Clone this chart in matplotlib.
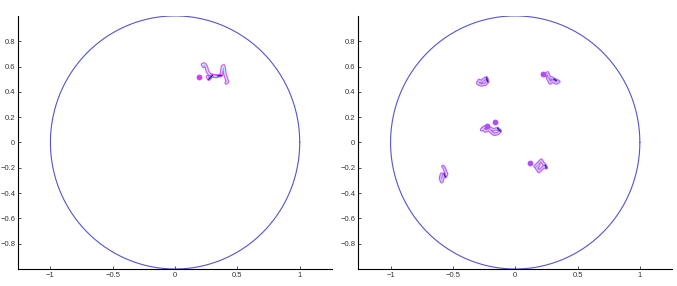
import numpy as np
import matplotlib
matplotlib.use("Agg")
import matplotlib.pyplot as plt

plt.rcParams['font.family'] = ['Liberation Sans', 'DejaVu Sans']

# unit circle boundary
theta = np.linspace(0, 2 * np.pi, 400)

# left panel: one cluster of trajectories
left_paths = [
    ([0.23, 0.22, 0.235, 0.25, 0.26, 0.28, 0.31, 0.34, 0.37, 0.375, 0.38, 0.39, 0.395, 0.40, 0.41, 0.42, 0.41],
     [0.60, 0.615, 0.62, 0.60, 0.56, 0.535, 0.525, 0.525, 0.53, 0.56, 0.60, 0.605, 0.58, 0.54, 0.51, 0.48, 0.47]),
    ([0.26, 0.27, 0.30, 0.33], [0.52, 0.50, 0.53, 0.52]),
]
left_dots_x = [0.19]
left_dots_y = [0.515]

# right panel: five clusters
right_paths = [
    ([-0.30, -0.29, -0.27, -0.25, -0.23, -0.22, -0.24, -0.27, -0.29, -0.30],
     [0.47, 0.49, 0.48, 0.50, 0.51, 0.48, 0.46, 0.455, 0.46, 0.47]),
    ([0.22, 0.24, 0.26, 0.27, 0.29, 0.31, 0.33, 0.35, 0.33, 0.30, 0.28, 0.27, 0.26],
     [0.54, 0.53, 0.55, 0.52, 0.51, 0.50, 0.49, 0.48, 0.47, 0.485, 0.47, 0.49, 0.51]),
    ([-0.27, -0.25, -0.22, -0.20, -0.17, -0.14, -0.12, -0.14, -0.17, -0.19, -0.21, -0.24, -0.26],
     [0.10, 0.12, 0.13, 0.11, 0.10, 0.11, 0.09, 0.07, 0.065, 0.08, 0.10, 0.09, 0.11]),
    ([-0.58, -0.57, -0.56, -0.55, -0.56, -0.57, -0.58, -0.59, -0.60, -0.59],
     [-0.19, -0.20, -0.23, -0.25, -0.27, -0.25, -0.28, -0.31, -0.28, -0.25]),
    ([0.16, 0.18, 0.20, 0.21, 0.22, 0.24, 0.25, 0.23, 0.21, 0.19, 0.17, 0.19],
     [-0.19, -0.17, -0.15, -0.14, -0.16, -0.18, -0.20, -0.19, -0.21, -0.23, -0.20, -0.18]),
]
right_dots_x = [0.22, -0.16, 0.12, -0.23]
right_dots_y = [0.54, 0.165, -0.165, 0.13]

xticks = [-1, -0.5, 0, 0.5, 1]
yticks = [-0.8, -0.6, -0.4, -0.2, 0, 0.2, 0.4, 0.6, 0.8]

fig = plt.figure(figsize=(6.77, 2.86), dpi=100)
ax1 = fig.add_axes([0.0266, 0.0594, 0.464, 0.885])
ax2 = fig.add_axes([0.529, 0.0594, 0.464, 0.885])


def draw(ax, paths, dx, dy, outline, inner):
    ax.plot(np.cos(theta), np.sin(theta), color="#5555c8", lw=0.8)
    for px, py in paths:
        ax.plot(px, py, color=outline, lw=2.6, solid_capstyle="round",
                solid_joinstyle="round", alpha=0.9)
        ax.plot(px, py, color=inner, lw=1.0, solid_capstyle="round",
                solid_joinstyle="round")
        ax.plot(px[len(px) // 2 - 1:len(px) // 2 + 1],
                py[len(py) // 2 - 1:len(py) // 2 + 1], color="#2020b0", lw=1.0)
    ax.scatter(dx, dy, s=10, color=outline, zorder=3)
    ax.set_xlim(-1.26, 1.26)
    ax.set_ylim(-1.0, 1.0)
    ax.set_xticks(xticks)
    ax.set_xticklabels(["\u22121", "\u22120.5", "0", "0.5", "1"])
    ax.set_yticks(yticks)
    ax.set_yticklabels([f"{v:g}".replace("-", "\u2212") if v != 0 else "0" for v in yticks])
    for s in ["top", "right"]:
        ax.spines[s].set_visible(False)
    for s in ["left", "bottom"]:
        ax.spines[s].set_linewidth(0.8)
    ax.tick_params(direction="in", length=2.5, width=0.6, labelsize=5.5,
                   colors="#333333", pad=2)


draw(ax1, left_paths, left_dots_x, left_dots_y, "#d040f0", "#b8f0ff")
draw(ax2, right_paths, right_dots_x, right_dots_y, "#b050f0", "#d8c0ff")

fig.savefig("out.png", dpi=100)
